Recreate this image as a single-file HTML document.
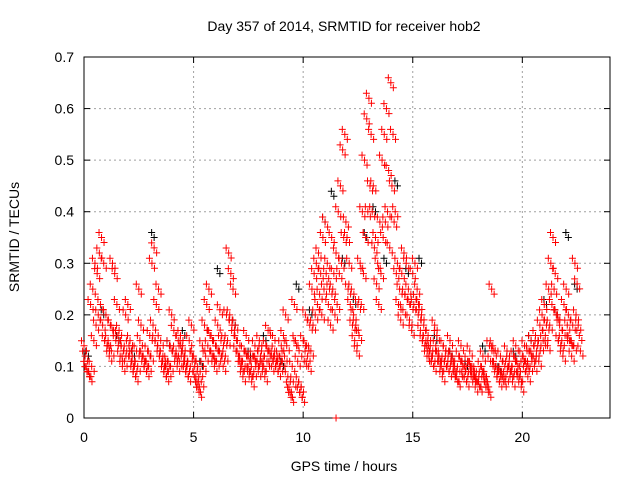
<!DOCTYPE html>
<html><head><meta charset="utf-8"><style>
body{margin:0;background:#fff;}
svg text{font-family:"Liberation Sans",sans-serif;font-size:14px;fill:#000;}
</style></head><body>
<svg id="chart" width="640" height="480" xmlns="http://www.w3.org/2000/svg">
<rect width="640" height="480" fill="#fff"/>
<text x="344" y="31" text-anchor="middle">Day 357 of 2014, SRMTID for receiver hob2</text>
<text x="344" y="471" text-anchor="middle">GPS time / hours</text>
<text transform="translate(19,237) rotate(-90)" text-anchor="middle">SRMTID / TECUs</text>
<g id="grid"></g><g id="axes"></g><g id="marks"></g>
</svg>
<script>
const xTicks=[0,5,10,15,20];
const yTicks=[0,0.1,0.2,0.3,0.4,0.5,0.6,0.7];
const yTickLabels=["0","0.1","0.2","0.3","0.4","0.5","0.6","0.7"];
const startHour=0, stepHours=0.1;
const upperValues=[0.14,0.10,0.09,0.22,0.25,0.30,0.28,0.32,0.35,0.30,
0.20,0.15,0.18,0.30,0.28,0.22,0.17,0.14,0.13,0.20,
0.22,0.15,0.12,0.10,0.13,0.25,0.18,0.12,0.11,0.13,
0.16,0.30,0.33,0.22,0.25,0.15,0.12,0.10,0.11,0.14,
0.20,0.17,0.13,0.15,0.16,0.14,0.12,0.10,0.15,0.18,
0.12,0.08,0.06,0.09,0.14,0.18,0.22,0.25,0.16,0.12,
0.14,0.18,0.21,0.12,0.15,0.20,0.32,0.28,0.25,0.18,
0.15,0.12,0.10,0.13,0.16,0.12,0.09,0.12,0.14,0.11,
0.15,0.13,0.10,0.14,0.17,0.12,0.16,0.13,0.11,0.12,
0.14,0.16,0.20,0.08,0.05,0.10,0.22,0.14,0.07,0.06,
0.15,0.20,0.12,0.18,0.25,0.28,0.30,0.32,0.28,0.35,
0.38,0.30,0.25,0.35,0.28,0.32,0.40,0.45,0.52,0.55,
0.35,0.30,0.25,0.20,0.18,0.22,0.30,0.40,0.50,0.58,
0.62,0.55,0.45,0.35,0.30,0.38,0.50,0.55,0.60,0.48,
0.65,0.55,0.40,0.30,0.25,0.28,0.32,0.30,0.25,0.22,
0.28,0.30,0.25,0.22,0.20,0.18,0.15,0.16,0.14,0.12,
0.18,0.16,0.12,0.10,0.14,0.13,0.11,0.15,0.12,0.10,
0.08,0.12,0.14,0.10,0.09,0.11,0.13,0.10,0.08,0.09,
0.07,0.10,0.12,0.08,0.06,0.14,0.25,0.13,0.10,0.09,
0.12,0.08,0.10,0.13,0.11,0.09,0.12,0.14,0.10,0.08,
0.12,0.14,0.10,0.13,0.15,0.12,0.16,0.14,0.18,0.20,
0.22,0.18,0.25,0.30,0.35,0.28,0.20,0.18,0.15,0.22,
0.25,0.20,0.15,0.18,0.30,0.26,0.16];
const lowerValues=[0.12,0.09,0.08,0.10,0.15,0.18,0.20,0.22,0.18,0.15,
0.14,0.12,0.13,0.17,0.15,0.16,0.12,0.10,0.11,0.13,
0.14,0.11,0.09,0.08,0.10,0.15,0.12,0.10,0.09,0.10,
0.12,0.18,0.15,0.14,0.12,0.11,0.09,0.08,0.09,0.10,
0.13,0.12,0.10,0.11,0.13,0.11,0.09,0.08,0.10,0.12,
0.10,0.07,0.05,0.07,0.10,0.12,0.14,0.16,0.12,0.10,
0.11,0.13,0.15,0.10,0.12,0.15,0.20,0.18,0.16,0.13,
0.12,0.10,0.08,0.10,0.12,0.09,0.07,0.09,0.11,0.09,
0.12,0.10,0.08,0.11,0.13,0.10,0.12,0.10,0.09,0.10,
0.11,0.12,0.14,0.06,0.04,0.07,0.15,0.11,0.05,0.04,
0.11,0.14,0.10,0.13,0.18,0.20,0.22,0.24,0.20,0.25,
0.28,0.22,0.18,0.25,0.20,0.22,0.28,0.30,0.35,0.38,
0.25,0.22,0.18,0.15,0.13,0.16,0.22,0.28,0.35,0.40,
0.45,0.40,0.33,0.26,0.22,0.28,0.35,0.38,0.40,0.33,
0.45,0.38,0.28,0.22,0.19,0.21,0.24,0.23,0.19,0.17,
0.22,0.23,0.20,0.17,0.15,0.14,0.12,0.13,0.11,0.10,
0.14,0.12,0.10,0.08,0.11,0.10,0.09,0.12,0.10,0.08,
0.07,0.09,0.11,0.08,0.07,0.09,0.10,0.08,0.06,0.07,
0.06,0.08,0.09,0.07,0.05,0.11,0.14,0.10,0.08,0.07,
0.09,0.07,0.08,0.10,0.09,0.07,0.09,0.11,0.08,0.06,
0.10,0.11,0.08,0.10,0.12,0.10,0.13,0.11,0.14,0.15,
0.16,0.14,0.18,0.22,0.25,0.20,0.15,0.14,0.12,0.16,
0.18,0.15,0.12,0.14,0.20,0.18,0.13];
const blackHours=[0.2,0.9,1.6,2.3,3.2,3.9,4.6,5.4,6.2,6.9,7.6,8.3,9.1,9.8,10.4,11.0,11.4,11.9,12.4,12.9,13.3,13.8,14.3,14.8,15.4,16.1,16.8,17.5,18.3,19.0,19.7,20.4,21.1,21.6,22.1,22.5];
const blackValues=[0.12,0.20,0.15,0.12,0.35,0.14,0.16,0.10,0.28,0.18,0.12,0.15,0.10,0.25,0.20,0.38,0.43,0.30,0.22,0.35,0.40,0.30,0.45,0.28,0.30,0.15,0.12,0.10,0.13,0.09,0.12,0.15,0.22,0.20,0.35,0.25];
const outlierHours=[11.5];
const outlierValues=[0];
const X0=84,X1=610,Y0=418,Y1=57,XMAX=24,YMAX=0.7;
function xs(h){return X0+(X1-X0)*h/XMAX;}
function ys(v){return Y0-(Y0-Y1)*v/YMAX;}
const NS="http://www.w3.org/2000/svg";
function mk(tag,attrs,parent){const e=document.createElementNS(NS,tag);for(const k in attrs)e.setAttribute(k,attrs[k]);parent.appendChild(e);return e;}
const grid=document.getElementById('grid'),axes=document.getElementById('axes'),marks=document.getElementById('marks');
xTicks.forEach(t=>{const x=xs(t);
 if(t>0){const g=mk('line',{x1:x,x2:x,y1:Y0,y2:Y1,stroke:'#a0a0a0','stroke-dasharray':'2,3'},grid);
 
 }
 mk('line',{x1:x,x2:x,y1:Y0,y2:Y0-6,stroke:'#000'},axes);
 mk('line',{x1:x,x2:x,y1:Y1,y2:Y1+6,stroke:'#000'},axes);
 const l=mk('text',{x:x,y:Y0+24,'text-anchor':'middle'},axes);l.textContent=String(t);
 
 });
yTicks.forEach((t,i)=>{const y=ys(t);
 if(t>0&&t<YMAX){const g=mk('line',{x1:X0,x2:X1,y1:y,y2:y,stroke:'#a0a0a0','stroke-dasharray':'2,3'},grid);
 
 }
 mk('line',{x1:X0,x2:X0+6,y1:y,y2:y,stroke:'#000'},axes);
 mk('line',{x1:X1,x2:X1-6,y1:y,y2:y,stroke:'#000'},axes);
 const l=mk('text',{x:X0-10,y:y+5,'text-anchor':'end'},axes);l.textContent=yTickLabels[i];
 
 });
const frame=mk('rect',{x:X0,y:Y1,width:X1-X0,height:Y0-Y1,fill:'none',stroke:'#000'},axes);


// each data value is drawn as a small cluster glyph of plus signs (pixel offsets are style only)
const clusterDX=[0,-2.5,2.5,1], clusterDY=[0,-5,5,-10];
function plus(h,v,c,n){const x=xs(h),y=ys(v);let d='';
 for(let k=0;k<n;k++){const cx=x+clusterDX[k],cy=y+clusterDY[k];d+=`M${cx-3.5},${cy}h7M${cx},${cy-3.5}v7`;}
 const p=mk('path',{d:d,stroke:c,'stroke-width':1},marks);
 
 }
blackHours.forEach((h,i)=>plus(h,blackValues[i],'#000',2));
upperValues.forEach((v,i)=>plus(startHour+i*stepHours,v,'#f00',3));
lowerValues.forEach((v,i)=>plus(startHour+i*stepHours+0.05,v,'#f00',3));
outlierHours.forEach((h,i)=>plus(h,outlierValues[i],'#f00',1));
</script>
</body></html>
